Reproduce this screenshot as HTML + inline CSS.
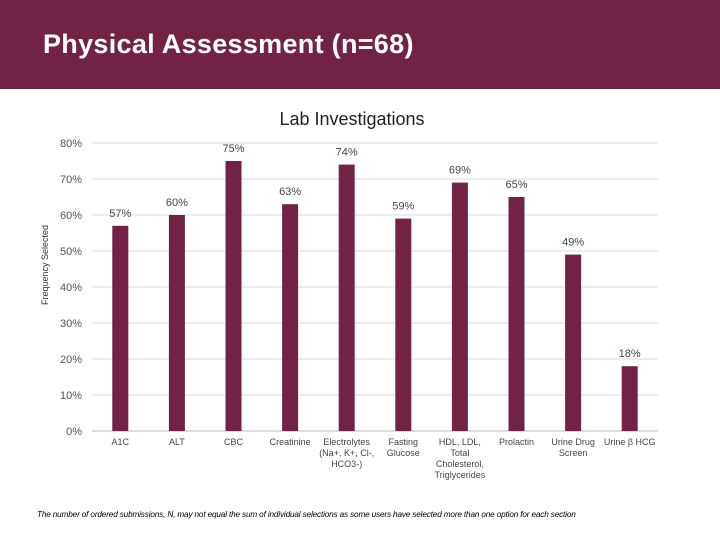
<!DOCTYPE html>
<html><head><meta charset="utf-8"><style>
body{margin:0;width:720px;height:540px;background:#fff;font-family:"Liberation Sans",sans-serif;overflow:hidden;position:relative}
#hdr{position:absolute;left:0;top:0;width:720px;height:89px;background:#722345}
#hdr h1{position:absolute;left:43px;top:29px;margin:0;color:#fff;font-size:27px;font-weight:bold;letter-spacing:0.3px}
#note{position:absolute;left:37px;top:510px;font-size:8.2px;font-style:italic;color:#000;letter-spacing:-0.15px}
</style></head><body>
<div id="hdr"><h1>Physical Assessment (n=68)</h1></div>
<svg id="chart" width="720" height="540" style="position:absolute;left:0;top:0">
<text x="352" y="125" text-anchor="middle" font-size="18" fill="#222">Lab Investigations</text>
<text transform="translate(48,265) rotate(-90)" text-anchor="middle" font-size="9" fill="#333">Frequency Selected</text>
<g id="grid"></g><g id="bars"></g><g id="xl"></g>
</svg>
<div id="note">The number of ordered submissions, N, may not equal the sum of individual selections as some users have selected more than one option for each section</div>
<script>
const categories=[["A1C"],["ALT"],["CBC"],["Creatinine"],["Electrolytes","(Na+, K+, Cl-,","HCO3-)"],["Fasting","Glucose"],["HDL, LDL,","Total","Cholesterol,","Triglycerides"],["Prolactin"],["Urine Drug","Screen"],["Urine β HCG"]];
const values=[57,60,75,63,74,59,69,65,49,18];
const yTicks=[0,10,20,30,40,50,60,70,80];
const NS="http://www.w3.org/2000/svg";
const x0=92,x1=658,y0=431,yTop=143,yMax=80;
const y=v=>y0-(v/yMax)*(y0-yTop);
const band=(x1-x0)/categories.length;
const xc=i=>x0+band*(i+0.5);
function mk(t,a,p){const e=document.createElementNS(NS,t);for(const k in a)e.setAttribute(k,a[k]);p.appendChild(e);return e;}
const grid=document.getElementById('grid'),bars=document.getElementById('bars'),xl=document.getElementById('xl');
yTicks.forEach(t=>{
 const l=mk('line',{x1:x0,x2:x1,y1:y(t),y2:y(t),stroke:t===0?'#bbb':'#d9d9d9','stroke-width':1},grid);
 
 
 const tx=mk('text',{x:82,y:y(t)+4,'text-anchor':'end','font-size':11,fill:'#555'},grid);
 tx.textContent=t+'%';
 
 
});
values.forEach((v,i)=>{
 const r=mk('rect',{x:xc(i)-8,y:y(v),width:16,height:y0-y(v),fill:'#722345'},bars);
 
 
 const t=mk('text',{x:xc(i),y:y(v)-9,'text-anchor':'middle','font-size':11,fill:'#444'},bars);
 t.textContent=v+'%';
 
 
 categories[i].forEach((s,j)=>{
  const c=mk('text',{x:xc(i),y:445+j*11,'text-anchor':'middle','font-size':9,fill:'#444'},xl);
  c.textContent=s;
  
  
 });
});
</script>
</body></html>
